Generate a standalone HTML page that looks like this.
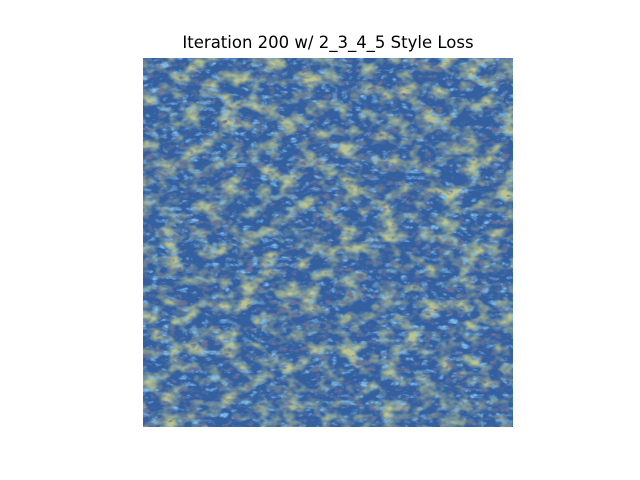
<!DOCTYPE html>
<html><head><meta charset="utf-8"><style>
html,body{margin:0;padding:0;background:#fff;width:640px;height:480px;overflow:hidden}
#title{position:absolute;left:143px;width:370px;top:33px;text-align:center;font:16.5px "DejaVu Sans","Liberation Sans",sans-serif;color:#000;white-space:nowrap}
svg{position:absolute;left:0;top:0}
</style></head><body>
<div id="title">Iteration 200 w/ 2_3_4_5 Style Loss</div>
<svg width="640" height="480">
<defs>
<filter id="yel" x="0" y="0" width="100%" height="100%">
<feTurbulence type="fractalNoise" baseFrequency="0.05 0.07" numOctaves="3" seed="7"/>
<feColorMatrix type="matrix" values="0 0 0 0 0.5  0 0 0 0 0.56  0 0 0 0 0.28  3.0 0 0 0 -1.35"/>
</filter>
<filter id="fine" x="0" y="0" width="100%" height="100%">
<feTurbulence type="turbulence" baseFrequency="0.1 0.16" numOctaves="2" seed="3"/>
<feColorMatrix type="matrix" values="0 0 0 0 0.2  0 0 0 0 0.5  0 0 0 0 0.85  0 2.5 0 0 -0.8"/>
</filter>
<filter id="dark" x="0" y="0" width="100%" height="100%">
<feTurbulence type="turbulence" baseFrequency="0.09 0.15" numOctaves="2" seed="11"/>
<feColorMatrix type="matrix" values="0 0 0 0 0.15  0 0 0 0 0.17  0 0 0 0 0.3  0 0 3 0 -1.0"/>
</filter>
</defs>
<rect x="143" y="58" width="370" height="369" fill="#3460a0"/>
<rect x="143" y="58" width="370" height="369" filter="url(#yel)"/>
<rect x="143" y="58" width="370" height="369" filter="url(#fine)"/>
<rect x="143" y="58" width="370" height="369" filter="url(#dark)"/>
</svg>
</body></html>
